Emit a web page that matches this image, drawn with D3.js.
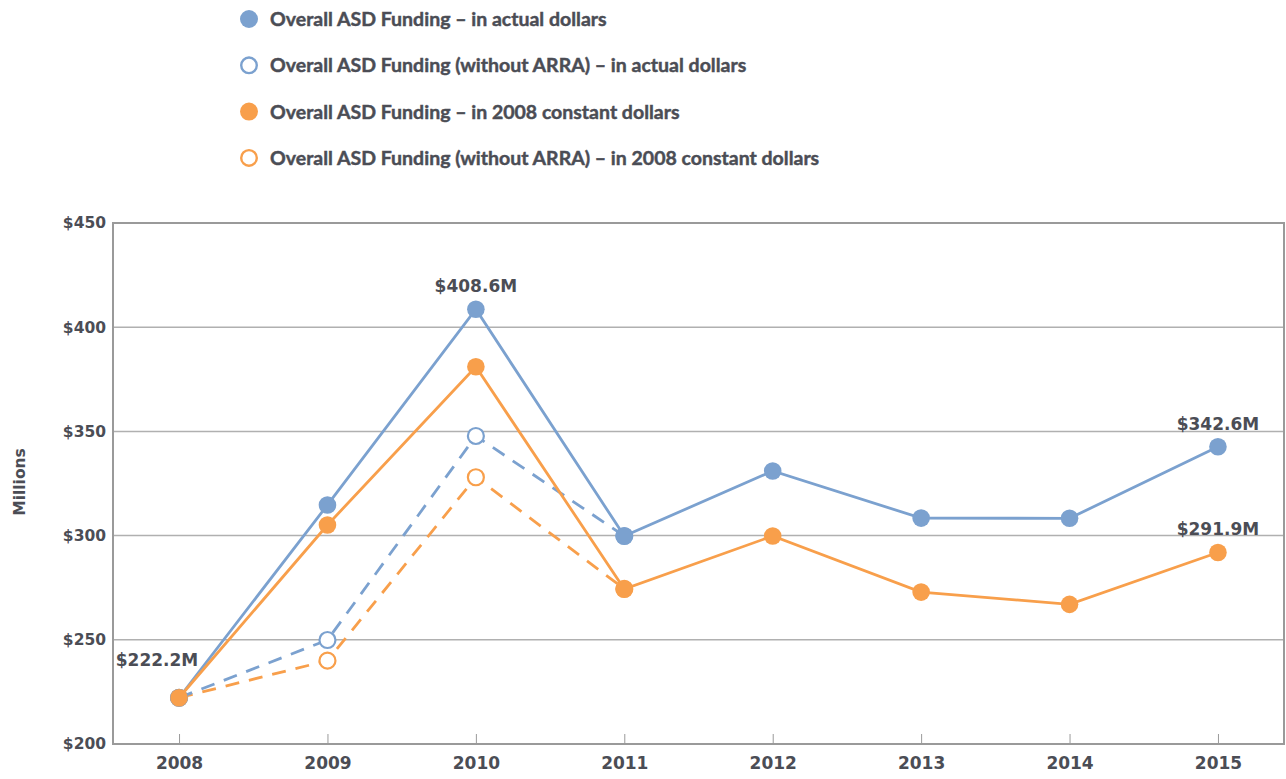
<!DOCTYPE html>
<html><head><meta charset="utf-8">
<script src="https://cdn.jsdelivr.net/npm/d3@7"></script>
<style>body{margin:0;background:#fff;} svg{display:block;}</style>
</head><body>
<svg id="c" width="1286" height="779"></svg>
<script>
const years = [2008, 2009, 2010, 2011, 2012, 2013, 2014, 2015];
const actual = [222.2, 314.7, 408.6, 299.8, 331.0, 308.4, 308.3, 342.6];
const constant2008 = [222.2, 305.1, 381.0, 274.4, 299.8, 272.9, 267.0, 291.9];
const actualNoArraYears = [2008, 2009, 2010, 2011];
const actualNoArra = [222.2, 249.9, 347.8, 299.8];
const constantNoArra = [222.2, 240.0, 328.0, 274.4];
const yTicks = [200, 250, 300, 350, 400, 450];
const legendLabels = [
  "Overall ASD Funding – in actual dollars",
  "Overall ASD Funding (without ARRA) – in actual dollars",
  "Overall ASD Funding – in 2008 constant dollars",
  "Overall ASD Funding (without ARRA) – in 2008 constant dollars"
];
const valueLabels = [
  {year: 2008, value: 222.2, text: "$222.2M", pos: "left"},
  {year: 2010, value: 408.6, text: "$408.6M", pos: "top"},
  {year: 2015, value: 342.6, text: "$342.6M", pos: "top"},
  {year: 2015, value: 291.9, text: "$291.9M", pos: "top"}
];

const BLUE = "#7ba1cf", ORANGE = "#f89f4b", TEXT = "#4b4d55", GRID = "#b0b0b0", AXIS = "#9a9a9a";
const FONT = "Lato, 'Open Sans', sans-serif";
const NFONT = "'DejaVu Sans', sans-serif";
const svg = d3.select("#c");
const L = 113, R = 1284, T = 223, B = 744;

const x = d3.scalePoint().domain(years).range([L, R]).padding(0.445);
const y = d3.scaleLinear().domain([200, 450]).range([B, T]);

// grid
svg.append("g").selectAll("line").data(yTicks.filter(d => d > 200 && d < 450)).join("line")
  .attr("x1", L).attr("x2", R).attr("y1", d => y(d)).attr("y2", d => y(d))
  .attr("stroke", GRID).attr("stroke-width", 1.5);

// frame
svg.append("rect").attr("x", L).attr("y", T).attr("width", R - L).attr("height", B - T)
  .attr("fill", "none").attr("stroke", AXIS).attr("stroke-width", 2);

// y axis
const yAxis = d3.axisLeft(y).tickValues(yTicks).tickSize(0).tickPadding(7).tickFormat(d => "$" + d);
const gy = svg.append("g").attr("transform", `translate(${L},0)`).call(yAxis);
gy.select(".domain").remove();
gy.selectAll("text").attr("font-family", NFONT).attr("font-weight", 700).attr("font-size", 15.5).attr("fill", TEXT);

// x axis
const xAxis = d3.axisBottom(x).tickSizeInner(-10).tickSizeOuter(0).tickPadding(13);
const gx = svg.append("g").attr("transform", `translate(0,${B})`).call(xAxis);
gx.select(".domain").remove();
gx.selectAll("line").attr("stroke", AXIS).attr("stroke-width", 1);
gx.selectAll("text").attr("font-family", NFONT).attr("font-weight", 700).attr("font-size", 17).attr("fill", TEXT);

// y title
svg.append("text").attr("transform", "translate(25,482) rotate(-90)").attr("text-anchor", "middle")
  .attr("font-family", NFONT).attr("font-weight", 700).attr("font-size", 15.5).attr("fill", TEXT).text("Millions");

const line = d3.line().x(d => x(d[0])).y(d => y(d[1]));
function series(yrs, vals, color, dashed, open) {
  const pts = yrs.map((yr, i) => [yr, vals[i]]);
  svg.append("path").datum(pts).attr("d", line).attr("fill", "none").attr("stroke", color)
    .attr("stroke-width", 2.8).attr("stroke-dasharray", dashed ? "14,10" : null);
  svg.append("g").selectAll("circle").data(pts).join("circle")
    .attr("cx", d => x(d[0])).attr("cy", d => y(d[1])).attr("r", open ? 8 : 8.8)
    .attr("fill", open ? "#fff" : color).attr("stroke", open ? color : "none").attr("stroke-width", 2.2);
}
series(actualNoArraYears, constantNoArra, ORANGE, true, true);
series(actualNoArraYears, actualNoArra, BLUE, true, true);
series(years, actual, BLUE, false, false);
series(years, constant2008, ORANGE, false, false);

// value labels
svg.append("g").selectAll("text").data(valueLabels).join("text")
  .attr("x", d => d.pos === "left" ? x(d.year) - 22 : x(d.year))
  .attr("y", d => d.pos === "left" ? y(d.value) - 32 : y(d.value) - 17)
  .attr("text-anchor", "middle")
  .attr("font-family", NFONT).attr("font-weight", 700).attr("font-size", 17).attr("fill", TEXT)
  .text(d => d.text);

// legend
const legColors = [BLUE, BLUE, ORANGE, ORANGE];
const legOpen = [false, true, false, true];
const lg = svg.append("g").selectAll("g").data(legendLabels).join("g")
  .attr("transform", (d, i) => `translate(249,${19 + i * 46.3})`);
lg.append("circle").attr("r", (d, i) => legOpen[i] ? 7.8 : 9)
  .attr("fill", (d, i) => legOpen[i] ? "#fff" : legColors[i])
  .attr("stroke", (d, i) => legOpen[i] ? legColors[i] : "none").attr("stroke-width", 2.4);
lg.append("text").attr("x", 21).attr("dy", "0.36em")
  .attr("font-family", FONT).attr("font-weight", 700).attr("font-size", 19.5)
  .attr("fill", TEXT).attr("stroke", TEXT).attr("stroke-width", 0.45)
  .text(d => d);
</script>
</body></html>
